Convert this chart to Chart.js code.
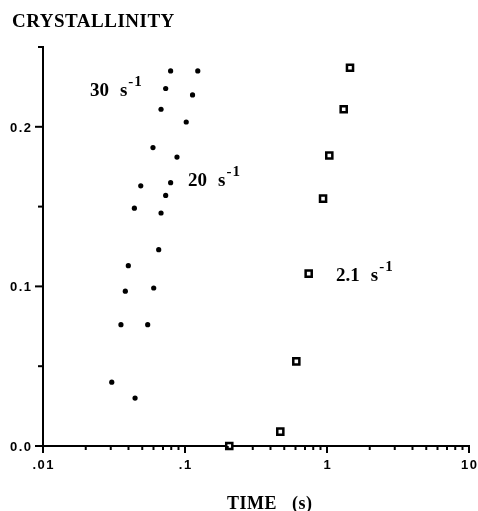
<!DOCTYPE html>
<html><head><meta charset="utf-8">
<style>html,body{margin:0;padding:0;background:#fff}#wrap{width:478px;height:511px;position:relative}</style>
<script src="https://cdn.jsdelivr.net/npm/chart.js@4/dist/chart.umd.min.js"></script>
</head><body><div id="wrap"><canvas id="c" width="478" height="511" style="width:478px;height:511px"></canvas></div>
<script>
// ---- data ----
const time30 = [0.0305, 0.0354, 0.0380, 0.0399, 0.0440, 0.0488, 0.0595, 0.0678, 0.0731, 0.0792];
const cryst30 = [0.040, 0.076, 0.097, 0.113, 0.149, 0.163, 0.187, 0.211, 0.224, 0.235];
const time20 = [0.0445, 0.0546, 0.0602, 0.0653, 0.0678, 0.0731, 0.0792, 0.0878, 0.102, 0.113, 0.123];
const cryst20 = [0.030, 0.076, 0.099, 0.123, 0.146, 0.157, 0.165, 0.181, 0.203, 0.220, 0.235];
const time21 = [0.205, 0.469, 0.608, 0.743, 0.938, 1.038, 1.311, 1.452];
const cryst21 = [0.000, 0.009, 0.053, 0.108, 0.155, 0.182, 0.211, 0.237];

const xMajorTicks = [0.01, 0.1, 1, 10];
const xTickLabels = ['.01', '.1', '1', '10'];
const xMinorTicks = [0.02,0.03,0.04,0.05,0.06,0.07,0.08,0.09, 0.2,0.3,0.4,0.5,0.6,0.7,0.8,0.9, 2,3,4,5,6,7,8,9];
const yMajorTicks = [0, 0.1, 0.2];
const yTickLabels = ['0.0', '0.1', '0.2'];
const yMinorTicks = [0.05, 0.15, 0.25];

const seriesLabels = [
  {num: '30', t: 0.0214, v: 0.2195},
  {num: '20', t: 0.105, v: 0.1629},
  {num: '2.1', t: 1.157, v: 0.1031}
];
const chartTitle = 'CRYSTALLINITY';
const xTitleA = 'TIME', xTitleB = '(s)';

const toPts = (xs, ys) => xs.map((x, i) => ({x: x, y: ys[i]}));

const serif = "'Liberation Serif', 'Times New Roman', serif";
const sans = "'Liberation Sans', Arial, sans-serif";

const decor = {
  id: 'decor',
  afterDraw(chart) {
    const {ctx, scales: {x, y}, chartArea: a} = chart;
    ctx.save();
    ctx.strokeStyle = '#000';
    ctx.lineWidth = 2;
    const ln = (x1, y1, x2, y2) => { ctx.beginPath(); ctx.moveTo(x1, y1); ctx.lineTo(x2, y2); ctx.stroke(); };
    xMajorTicks.forEach(v => { const p = x.getPixelForValue(v); ln(p, a.bottom, p, a.bottom + 7); });
    xMinorTicks.forEach(v => { const p = x.getPixelForValue(v); ln(p, a.bottom, p, a.bottom + 4); });
    yMajorTicks.forEach(v => { const p = y.getPixelForValue(v); ln(a.left - 8, p, a.left, p); });
    yMinorTicks.forEach(v => { const p = y.getPixelForValue(v); ln(a.left - 5, p, a.left, p); });

    ctx.fillStyle = '#000';
    // tick labels
    ctx.font = 'bold 13px ' + sans;
    ctx.letterSpacing = '1.5px';
    ctx.textBaseline = 'middle';
    ctx.textAlign = 'center';
    xMajorTicks.forEach((v, i) => {
      ctx.fillText(xTickLabels[i], x.getPixelForValue(v) + 0.75, a.bottom + 19.5);
    });
    ctx.textAlign = 'right';
    yMajorTicks.forEach((v, i) => {
      ctx.fillText(yTickLabels[i], a.left - 10.5, y.getPixelForValue(v) + 1.5);
    });

    ctx.textBaseline = 'alphabetic';
    ctx.textAlign = 'left';
    ctx.letterSpacing = '0.5px';
    ctx.font = 'bold 19px ' + serif;
    ctx.fillText(chartTitle, 12, 27);
    ctx.font = 'bold 18px ' + serif;
    ctx.fillText(xTitleA, 227, 509);
    ctx.fillText(xTitleB, 292, 509);
    ctx.letterSpacing = '0px';

    seriesLabels.forEach(l => {
      const px = x.getPixelForValue(l.t), py = y.getPixelForValue(l.v);
      ctx.font = 'bold 19px ' + serif;
      ctx.fillText(l.num, px, py);
      const sx = px + ctx.measureText(l.num).width + 11;
      ctx.fillText('s', sx, py);
      const ex = sx + ctx.measureText('s').width + 1;
      ctx.font = 'bold 15px ' + serif;
      ctx.letterSpacing = '1px';
      ctx.fillText('-1', ex, py - 10);
      ctx.letterSpacing = '0px';
    });
    ctx.restore();
  }
};

new Chart(document.getElementById('c'), {
  type: 'scatter',
  data: {
    datasets: [
      {label: '30 s-1', data: toPts(time30, cryst30), pointStyle: 'circle', pointRadius: 2.6,
       backgroundColor: '#000', borderColor: '#000', borderWidth: 0, clip: false},
      {label: '20 s-1', data: toPts(time20, cryst20), pointStyle: 'circle', pointRadius: 2.6,
       backgroundColor: '#000', borderColor: '#000', borderWidth: 0, clip: false},
      {label: '2.1 s-1', data: toPts(time21, cryst21), pointStyle: 'rect', pointRadius: 4.3,
       backgroundColor: '#fff', borderColor: '#000', borderWidth: 2.5, clip: false}
    ]
  },
  options: {
    responsive: false,
    animation: false,
    events: [],
    layout: {padding: {top: 47, right: 9, bottom: 0, left: 0}},
    plugins: {legend: {display: false}, tooltip: {enabled: false}, title: {display: false}},
    scales: {
      x: {
        type: 'logarithmic', min: 0.01, max: 10,
        grid: {display: false},
        border: {display: true, color: '#000', width: 2},
        ticks: {display: false},
        afterFit: s => { s.height = 65; s.paddingLeft = 0; s.paddingRight = 0; }
      },
      y: {
        type: 'linear', min: 0, max: 0.25,
        grid: {display: false},
        border: {display: true, color: '#000', width: 2},
        ticks: {display: false},
        afterFit: s => { s.width = 43; s.paddingTop = 0; s.paddingBottom = 0; }
      }
    }
  },
  plugins: [decor]
});
</script>
</body></html>
